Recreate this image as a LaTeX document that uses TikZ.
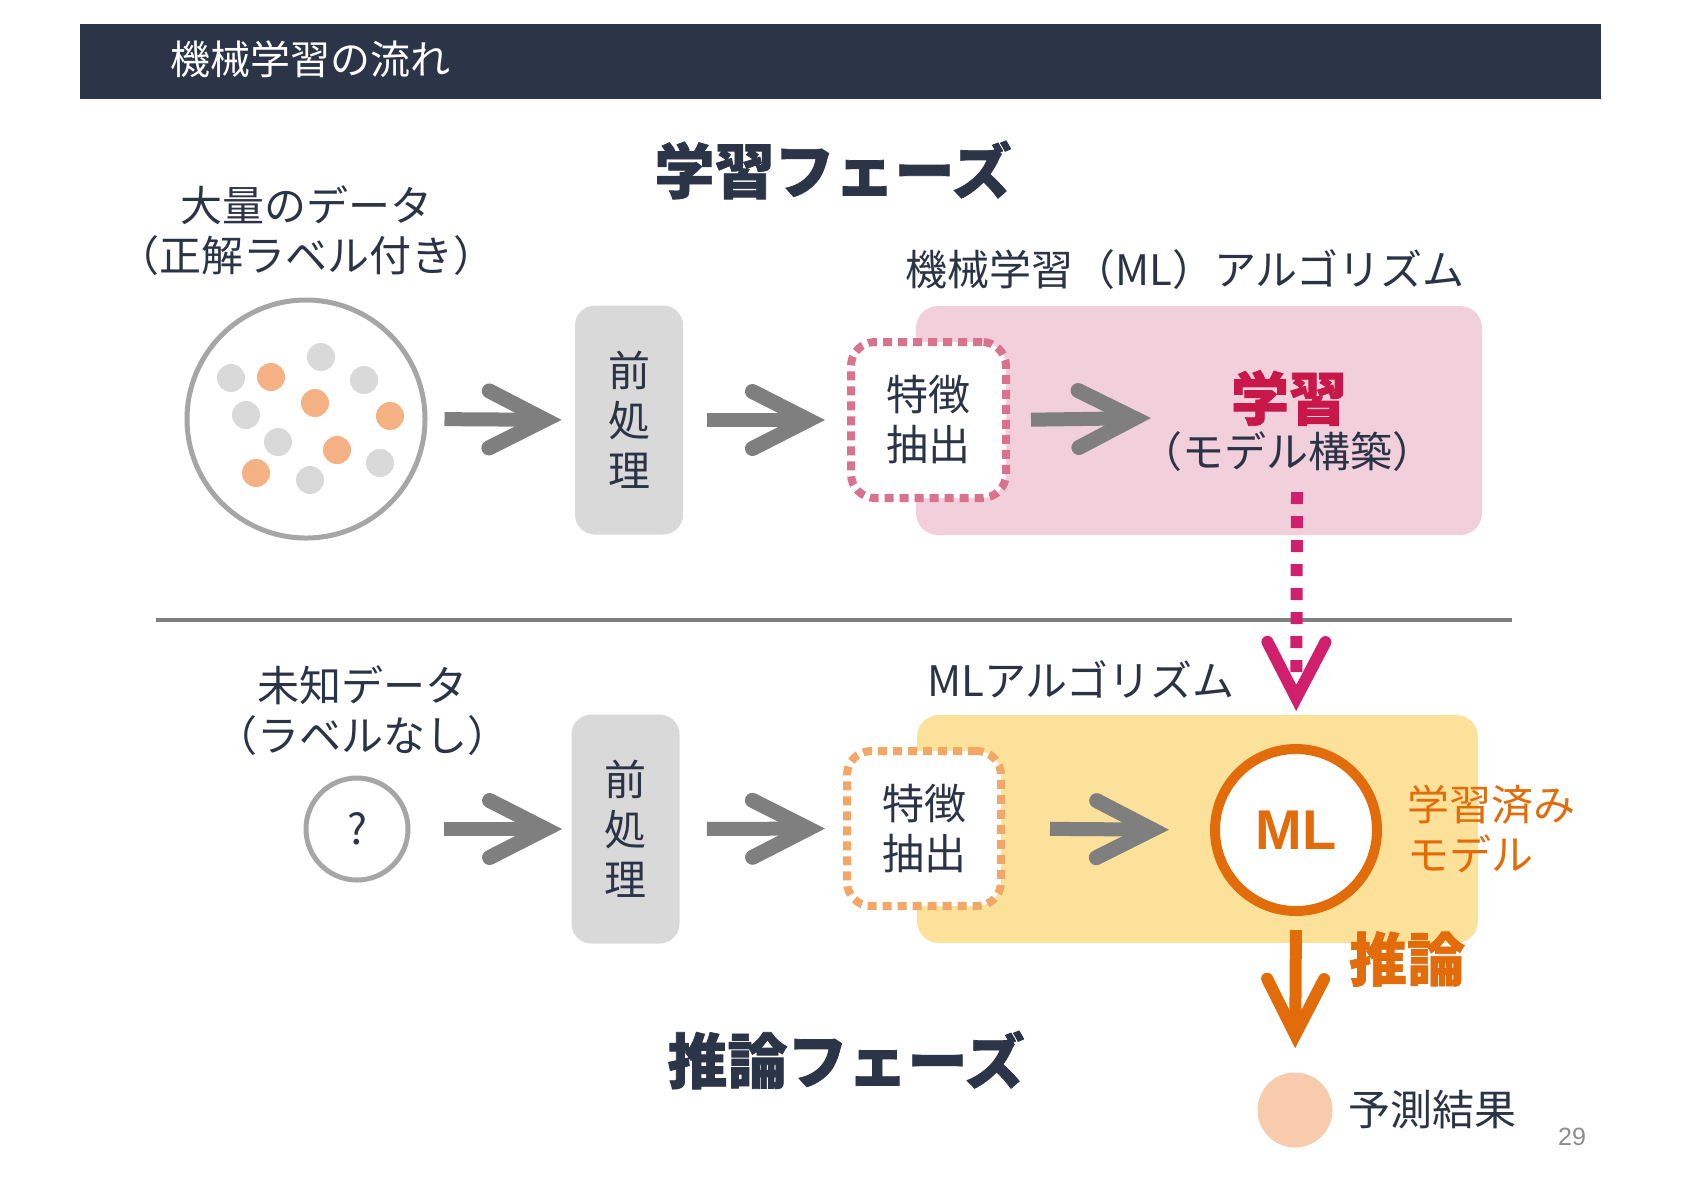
\documentclass[tikz,border=0pt]{standalone}
\usepackage{fontspec}
\setmainfont{Noto Sans CJK JP}
\newfontfamily\heavyfont{Noto Sans CJK JP}[BoldFeatures={FakeBold=1.2}]
\newfontfamily\latinfont{Liberation Sans}
\usetikzlibrary{arrows.meta}
\definecolor{navy}{HTML}{2C3448}
\definecolor{txt}{HTML}{2B3346}
\definecolor{garrowc}{HTML}{7F7F7F}
\definecolor{boxgray}{HTML}{D9D9D9}
\definecolor{ringgray}{HTML}{A6A6A6}
\definecolor{dotgray}{HTML}{D9D9D9}
\definecolor{dotorange}{HTML}{F4B183}
\definecolor{pinkarea}{HTML}{F2D0DB}
\definecolor{pinkdash}{HTML}{D9728F}
\definecolor{crimson}{HTML}{C8184A}
\definecolor{magentaarr}{HTML}{D01F6C}
\definecolor{yellowarea}{HTML}{FBE199}
\definecolor{orangedash}{HTML}{F2A766}
\definecolor{orangeml}{HTML}{E36C0A}
\definecolor{peach}{HTML}{F8CBAD}
\definecolor{pagegray}{HTML}{8C8C8C}
\tikzset{
  jp/.style={font=\fontsize{21}{25}\selectfont, text=txt, inner sep=0pt, align=center},
  garrow/.style={draw=garrowc, line width=7pt,
    -{Straight Barb[length=28pt,width=28.5pt,line width=7.5pt,line cap=round,line join=miter]}},
  prebox/.style={jp, fill=boxgray, rounded corners=10pt, minimum width=54pt, minimum height=114.5pt},
  featbox/.style={jp, fill=white, line width=4pt, dash pattern=on 4.5pt off 3pt,
    rounded corners=12pt, minimum width=77.5pt, minimum height=78pt},
  areabox/.style={rounded corners=11pt, inner sep=0pt, minimum width=281pt, minimum height=114pt},
  bigtitle/.style={font=\heavyfont\bfseries\fontsize{30}{36}\selectfont, text=navy, inner sep=0pt},
  ringnode/.style={circle, draw=ringgray, line width=2.5pt, inner sep=0pt, fill=white},
}
\begin{document}
\begin{tikzpicture}[x=0.5pt,y=-0.5pt]
\path[use as bounding box, fill=white] (0,0) rectangle (1684,1191);

% header
\fill[navy] (80,24) rectangle (1601,99);
\node[jp, font=\fontsize{20}{24}\selectfont, text=white, anchor=west] (title) at (170,59) {機械学習の流れ};

% phase titles
\node[bigtitle] (phase1) at (833,170) {学習フェーズ};
\node[bigtitle] (phase2) at (846,1060) {推論フェーズ};

% ===== upper row =====
\node[jp] (datalbl) at (306,231) {大量のデータ\\（正解ラベル付き）};
\node[ringnode, minimum size=119pt] (data) at (306,419) {};
\foreach \x/\y/\c in {231/378/dotgray, 271/377/dotorange, 321/357/dotgray, 364/380/dotgray,
  315/403/dotorange, 246/415/dotgray, 390/416/dotorange, 278/442/dotgray,
  337/450/dotorange, 380/463/dotgray, 256/473/dotorange, 310/480/dotgray}
  \fill[\c] (\x,\y) circle[radius=7pt];

\node[prebox] (pre1) at (629,420) {前\\処\\理};

\node[areabox, fill=pinkarea, minimum width=283pt, minimum height=114.5pt] (algo1) at (1199,420.5) {};
\node[jp] (algo1lbl) at (1185,270) {機械学習（ML）アルゴリズム};
\node[featbox, draw=pinkdash] (feat1) at (928.5,420) {特徴\\抽出};
\node[font=\heavyfont\bfseries\fontsize{29}{34}\selectfont, text=crimson, inner sep=0pt] (learn) at (1289,398) {学習};
\node[jp] (learnsub) at (1287,452) {（モデル構築）};
\coordinate (a3end) at (1151,418);
\coordinate (pinkstart) at (1297,492);

\draw[garrow, shorten <=8.5pt, shorten >=6.5pt] (data.east) -- (pre1.west);
\draw[garrow, shorten <=12pt, shorten >=11pt] (pre1.east) -- (feat1.west);
\draw[garrow, shorten <=10.5pt] (feat1.east) -- (a3end);

% divider
\draw[garrowc, line width=1.8pt] (156,620) -- (1512,620);

% ===== lower row =====
\node[jp] (unklbl) at (362,711) {未知データ\\（ラベルなし）};
\node[ringnode, minimum size=51pt, jp] (unk) at (357,829) {?};
\node[prebox] (pre2) at (625.5,829) {前\\処\\理};

\node[areabox, fill=yellowarea, minimum width=280.5pt, minimum height=114pt] (algo2) at (1197.5,829) {};
\node[jp] (algo2lbl) at (1081,679) {MLアルゴリズム};
\node[featbox, draw=orangedash, minimum width=77pt, minimum height=77.5pt] (feat2) at (924,828.5) {特徴\\抽出};
\node[circle, draw=orangeml, fill=white, line width=5pt, minimum size=81pt, inner sep=0pt,
      text=orangeml, font=\latinfont\bfseries\fontsize{28}{32}\selectfont] (ml) at (1296,830) {ML};
\node[jp, text=orangeml, anchor=west, align=left] (trained) at (1407,829) {学習済み\\モデル};
\node[font=\heavyfont\bfseries\fontsize{29}{34}\selectfont, text=orangeml, inner sep=0pt] (infer) at (1407,959) {推論};
\node[circle, fill=peach, minimum size=37.5pt, inner sep=0pt] (res) at (1295,1110) {};
\node[jp, anchor=west] (reslbl) at (1348,1110) {予測結果};
\node[font=\latinfont\fontsize{12.5}{14}\selectfont, text=pagegray, inner sep=0pt] (pagenum) at (1572,1137) {29};

\draw[garrow, shorten <=16.5pt, shorten >=4.5pt] (unk.east) -- (pre2.west);
\draw[garrow, shorten <=13.5pt, shorten >=9pt] (pre2.east) -- (feat2.west);
\draw[garrow, shorten <=22.5pt, shorten >=20.5pt] (feat2.east) -- (ml.west);

% pink dotted arrow from learning to trained model
\draw[magentaarr, line width=6pt, dash pattern=on 6pt off 6pt, shorten >=16.5pt,
  -{Straight Barb[length=28pt,width=29pt,line width=6pt,line cap=round,line join=miter]}] (pinkstart) -- (ml.north);

% orange inference arrow
\draw[orangeml, line width=6pt, shorten <=7pt, shorten >=12pt,
  -{Straight Barb[length=28pt,width=28.5pt,line width=6pt,line cap=round,line join=miter]}] (ml.south) -- (res.north);
\end{tikzpicture}
\end{document}
